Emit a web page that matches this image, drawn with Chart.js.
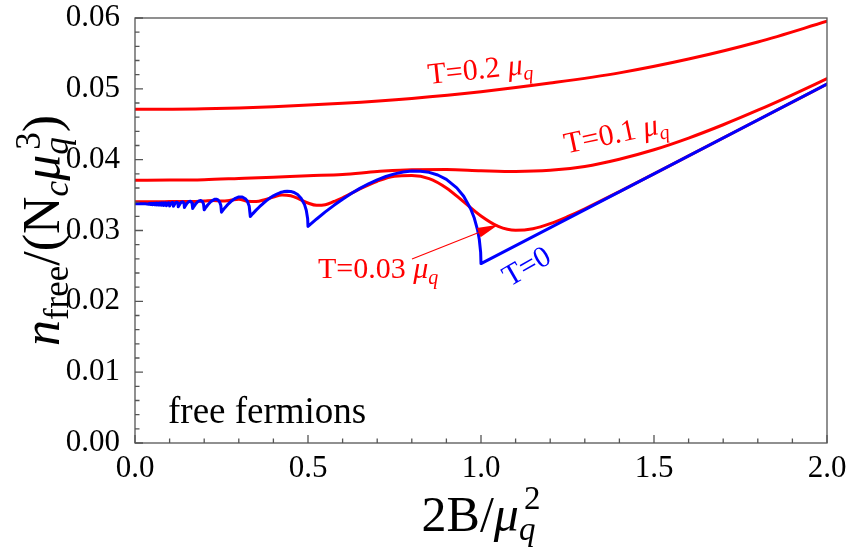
<!DOCTYPE html>
<html><head><meta charset="utf-8">
<script src="https://cdn.jsdelivr.net/npm/chart.js@4.4.0/dist/chart.umd.min.js"></script>
<style>html,body{margin:0;padding:0;background:#fff}canvas{display:block}</style>
</head><body>
<canvas id="c" width="859" height="548"></canvas>
<script>
// ---------- data (x = 2B/mu_q^2, y = n_free/(N_c mu_q^3)) ----------
const xTickValues = [0, 0.5, 1.0, 1.5, 2.0];
const yTickValues = [0, 0.01, 0.02, 0.03, 0.04, 0.05, 0.06];

// T = 0 (blue), [x, y] pairs
const curveT0 = [
 [0,0.03377],[0.03,0.03377],[0.04,0.0337],[0.0412,0.033807],[0.041667,0.0337],[0.043,0.03381],
 [0.043478,0.03369],[0.0449,0.033814],[0.045455,0.03368],[0.0469,0.033818],[0.047619,0.03367],
 [0.0495,0.033822],[0.05,0.03366],[0.0518,0.033827],[0.052632,0.03366],[0.0547,0.03383],
 [0.055556,0.03365],[0.0578,0.033837],[0.058824,0.03364],[0.0614,0.033844],[0.0625,0.03362],
 [0.0644,0.033825],[0.0655,0.033853],[0.0663,0.033795],[0.066667,0.03361],[0.0688,0.033833],
 [0.0701,0.033863],[0.071,0.0338],[0.071429,0.03359],[0.0739,0.03384],[0.0754,0.033874],
 [0.0764,0.033803],[0.076923,0.03357],[0.0798,0.033851],[0.0815,0.033889],[0.0827,0.033809],
 [0.083333,0.03354],[0.0867,0.033863],[0.0888,0.033907],[0.0902,0.033815],[0.090909,0.03351],
 [0.095,0.033879],[0.0975,0.033929],[0.0991,0.033824],[0.1,0.033461],[0.1033,0.033779],
 [0.1056,0.033918],[0.108,0.033958],[0.1096,0.033883],[0.1104,0.033759],[0.111111,0.03342],
 [0.1153,0.033789],[0.1181,0.033951],[0.1211,0.033997],[0.1231,0.03391],[0.1242,0.033766],
 [0.125,0.033342],[0.1304,0.033794],[0.1339,0.033992],[0.1379,0.034049],[0.1404,0.033943],
 [0.1418,0.033766],[0.142857,0.033248],[0.145,0.033439],[0.15,0.033808],[0.155,0.034052],
 [0.16,0.03412],[0.163,0.034014],[0.165,0.033806],[0.166667,0.033117],[0.17,0.033384],
 [0.175,0.033734],[0.18,0.034005],[0.185,0.034184],[0.19,0.034236],[0.195,0.034077],
 [0.198,0.033763],[0.2,0.032917],[0.205,0.03328],[0.21,0.033603],[0.22,0.034118],
 [0.23,0.034396],[0.235,0.034413],[0.24,0.034311],[0.245,0.0340],[0.248,0.033577],
 [0.25,0.03259],[0.26,0.03322],[0.27,0.033765],[0.28,0.034212],[0.29,0.034543],
 [0.3,0.034734],[0.31,0.034734],[0.32,0.034443],[0.325,0.034103],[0.33,0.033463],
 [0.333333,0.03198],[0.34,0.03235],[0.35,0.032874],[0.36,0.033359],[0.37,0.033808],
 [0.38,0.034215],[0.39,0.034577],[0.4,0.034891],[0.41,0.035151],[0.42,0.035355],
 [0.43,0.03549],[0.44,0.035547],[0.45,0.035515],[0.46,0.035368],[0.47,0.035071],
 [0.48,0.034556],[0.49,0.03365],[0.495,0.032865],[0.499,0.031664],[0.5,0.030576],
 [0.525,0.031628],[0.55,0.032622],[0.575,0.033555],[0.6,0.034422],[0.625,0.03522],
 [0.65,0.035945],[0.675,0.036593],[0.7,0.037154],[0.725,0.037624],[0.75,0.037995],
 [0.775,0.038254],[0.8,0.038389],[0.825,0.03838],[0.85,0.038208],[0.875,0.037836],
 [0.9,0.037215],[0.93,0.036022],[0.95,0.034826],[0.97,0.033082],[0.98,0.031844],
 [0.99,0.030092],[0.995,0.028768],[0.999,0.026905],[1.0,0.02533],[2.0,0.05066]
];

// T = 0.03 mu_q (red)
const xT003 = [0,0.05,0.1,0.15,0.175,0.2,0.225,0.25,0.275,0.3,0.325,0.35,0.375,0.4,0.425,0.45,0.475,0.5,0.525,0.55,0.575,0.6,0.65,0.7,0.75,0.8,0.85,0.9,0.95,1.0,1.05,1.1,1.15,1.2,1.25,1.3,1.4,1.6,1.8,2.0];
const yT003 = [0.03407,0.03407,0.03408,0.03409,0.03411,0.03415,0.03423,0.03418,0.03426,0.03441,0.03414,0.03408,0.03435,0.03473,0.03502,0.03490,0.03443,0.03388,0.03356,0.03364,0.03410,0.03460,0.03587,0.03695,0.03766,0.03775,0.03733,0.03601,0.03404,0.03205,0.03058,0.03003,0.03025,0.03096,0.03195,0.03307,0.0355,0.04054,0.0456,0.05067];

// T = 0.1 mu_q (red)
const xT01 = [0,0.1,0.2,0.3,0.4,0.5,0.6,0.7,0.8,0.9,1.0,1.1,1.2,1.3,1.4,1.5,1.6,1.7,1.8,1.9,2.0];
const yT01 = [0.03711,0.03712,0.03718,0.03735,0.03753,0.03774,0.03791,0.03832,0.03859,0.03860,0.03844,0.03833,0.03849,0.03905,0.04007,0.0414,0.04305,0.04493,0.04698,0.04916,0.05143];

// T = 0.2 mu_q (red)
const xT02 = [0,0.2,0.4,0.6,0.8,1.0,1.2,1.4,1.6,1.8,2.0];
const yT02 = [0.04711,0.04720,0.04748,0.04796,0.04865,0.04959,0.05081,0.05225,0.05420,0.05661,0.05954];

// ---------- rendering ----------
const FAM = 'Liberation Serif';
const FONT = '"Liberation Serif", serif';
const RED = '#ff0000', BLUE = '#0000ff';
Chart.defaults.font.family = FAM;
const zip = (xs, ys) => xs.map((x, i) => ({x, y: ys[i]}));

function layoutParts(ctx, parts){
  let maxX = 0, prevStart = 0;
  for (const p of parts){
    ctx.font = (p.i ? 'italic ' : '') + p.s + 'px ' + FONT;
    const w = ctx.measureText(p.t).width;
    const start = (p.stack ? prevStart : maxX) + (p.dx || 0);
    p._x = start; prevStart = start;
    maxX = Math.max(maxX, start + w);
  }
  return maxX;
}
function drawParts(ctx, parts, x, y, align, color){
  const W = layoutParts(ctx, parts);
  const x0 = align === 'center' ? x - W/2 : x;
  ctx.fillStyle = color; ctx.textAlign = 'left'; ctx.textBaseline = 'alphabetic';
  for (const p of parts){
    ctx.font = (p.i ? 'italic ' : '') + p.s + 'px ' + FONT;
    ctx.fillText(p.t, x0 + p._x, y + (p.dy || 0));
  }
}

const decor = {
  id: 'decor',
  afterDatasetsDraw(chart){
    const ctx = chart.ctx, xs = chart.scales.x, ys = chart.scales.y, a = chart.chartArea;
    const X = v => xs.getPixelForValue(v), Y = v => ys.getPixelForValue(v);
    ctx.save();
    // frame
    ctx.strokeStyle = '#555'; ctx.lineWidth = 1.3;
    ctx.strokeRect(a.left, a.top, a.right - a.left, a.bottom - a.top);
    // inward ticks
    ctx.beginPath();
    for (let i = 0; i <= 20; i++){
      const px = X(i * 0.1), len = (i % 5 === 0) ? 8 : 4.5;
      ctx.moveTo(px, a.bottom); ctx.lineTo(px, a.bottom - len);
    }
    for (let i = 0; i <= 30; i++){
      const py = Y(i * 0.002), len = (i % 5 === 0) ? 8 : 4.5;
      ctx.moveTo(a.left, py); ctx.lineTo(a.left + len, py);
    }
    ctx.stroke();

    // curve labels
    const lab = (txt, col, xv, yv, rotDeg, align) => {
      ctx.save(); ctx.translate(X(xv), Y(yv)); ctx.rotate(rotDeg * Math.PI/180);
      drawParts(ctx, txt, 0, 0, align, col); ctx.restore();
    };
    const tl = t => [{t: 'T=' + t + ' ', s: 30}, {t: 'μ', i: 1, s: 30}, {t: 'q', i: 1, s: 20, dy: 6}];
    lab(tl('0.2'), RED, 1.0, 0.05145, -6, 'center');
    lab(tl('0.1'), RED, 1.395, 0.0424, -12, 'center');
    lab(tl('0.03'), RED, 0.529, 0.0233, 0, 'left');
    lab([{t: 'T=0', s: 30}], BLUE, 1.145, 0.0238, -30, 'center');
    lab([{t: 'free fermions', s: 37}], '#000', 0.0954, 0.00282, 0, 'left');

    // arrow
    const sx = X(0.8006), sy = Y(0.02598), tx = X(1.05), ty = Y(0.0308);
    const dx = tx - sx, dy = ty - sy, L = Math.hypot(dx, dy), ux = dx / L, uy = dy / L;
    const hl = 21, hw = 5;
    ctx.strokeStyle = RED; ctx.fillStyle = RED; ctx.lineWidth = 1.1;
    ctx.beginPath(); ctx.moveTo(sx, sy); ctx.lineTo(tx - ux * hl, ty - uy * hl); ctx.stroke();
    ctx.beginPath(); ctx.moveTo(tx, ty);
    ctx.lineTo(tx - ux * hl - uy * hw, ty - uy * hl + ux * hw);
    ctx.lineTo(tx - ux * hl + uy * hw, ty - uy * hl - ux * hw);
    ctx.closePath(); ctx.fill();
    ctx.restore();
  },
  afterDraw(chart){
    const ctx = chart.ctx, a = chart.chartArea;
    ctx.save();
    // x title
    drawParts(ctx, [{t: '2B/', s: 50}, {t: 'μ', i: 1, s: 50}, {t: 'q', i: 1, s: 33, dy: 9},
                    {t: '2', s: 33, dy: -22, stack: 1, dx: 5}], (a.left + a.right) / 2, 531, 'center', '#000');
    // y title
    ctx.translate(59, (a.top + a.bottom) / 2);
    ctx.rotate(-Math.PI / 2);
    drawParts(ctx, [{t: 'n', i: 1, s: 52}, {t: 'free', s: 35, dy: 9}, {t: '/(N', s: 52},
                    {t: 'c', i: 1, s: 35, dy: 9}, {t: 'μ', i: 1, s: 52}, {t: 'q', i: 1, s: 35, dy: 9},
                    {t: '3', s: 35, dy: -19, stack: 1, dx: 5}, {t: ')', s: 52}], 0, 0, 'center', '#000');
    ctx.restore();
  }
};

const lineDs = (label, data, color, smooth) => ({
  label, data, borderColor: color, backgroundColor: color, borderWidth: 3,
  pointRadius: 0, fill: false, tension: 0,
  cubicInterpolationMode: smooth ? 'monotone' : 'default', borderJoinStyle: 'round', borderCapStyle: 'round'
});

const noPad = s => { s.paddingTop = 0; s.paddingBottom = 0; s.paddingLeft = 0; s.paddingRight = 0; };

new Chart(document.getElementById('c'), {
  type: 'line',
  data: {
    datasets: [
      lineDs('T=0', curveT0.map(p => ({x: p[0], y: p[1]})), BLUE, false),
      lineDs('T=0.03', zip(xT003, yT003), RED, true),
      lineDs('T=0.1', zip(xT01, yT01), RED, true),
      lineDs('T=0.2', zip(xT02, yT02), RED, true)
    ]
  },
  options: {
    responsive: false, animation: false, devicePixelRatio: 1,
    layout: {padding: {top: 18, right: 32, left: 0, bottom: 0}},
    plugins: {legend: {display: false}, tooltip: {enabled: false}},
    scales: {
      x: {
        type: 'linear', min: 0, max: 2,
        afterBuildTicks: s => { s.ticks = xTickValues.map(v => ({value: v})); },
        afterFit: s => { s.height = 105; noPad(s); },
        ticks: {callback: v => v.toFixed(1), font: {family: FAM, size: 31}, color: '#000', padding: 7, maxRotation: 0, autoSkip: false},
        grid: {display: false, drawTicks: false}, border: {display: false}
      },
      y: {
        type: 'linear', min: 0, max: 0.06,
        afterBuildTicks: s => { s.ticks = yTickValues.map(v => ({value: v})); },
        afterFit: s => { s.width = 135; noPad(s); },
        ticks: {callback: v => v.toFixed(2), font: {family: FAM, size: 31}, color: '#000', padding: 15, autoSkip: false},
        grid: {display: false, drawTicks: false}, border: {display: false}
      }
    }
  },
  plugins: [decor]
});
</script></body></html>
